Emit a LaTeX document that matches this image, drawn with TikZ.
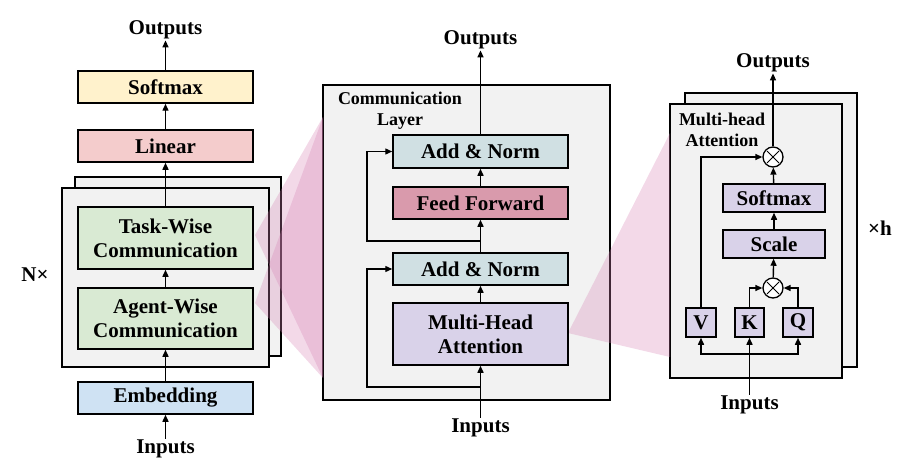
\documentclass[tikz,border=0pt]{standalone}
\usepackage{fontspec}
\setmainfont{Liberation Serif}
\usepackage{xcolor}
\usetikzlibrary{arrows.meta, backgrounds, positioning}

\definecolor{panelgray}{HTML}{F2F2F2}
\definecolor{softyellow}{HTML}{FFF2CC}
\definecolor{linearpink}{HTML}{F4CCCC}
\definecolor{commgreen}{HTML}{D9EAD3}
\definecolor{embedblue}{HTML}{CFE2F3}
\definecolor{normteal}{HTML}{D0E0E3}
\definecolor{ffrose}{HTML}{D99AAC}
\definecolor{attnpurple}{HTML}{D9D2E9}
\definecolor{fanpink}{RGB}{214,130,180}

\begin{document}
\begin{tikzpicture}[x=1pt, y=-1pt,
        block/.style={draw, line width=1.5pt, minimum width=175pt, minimum height=32pt, align=center, inner sep=0pt, font=\fontsize{21}{24}\selectfont\bfseries},
        panel/.style={draw, line width=1.5pt, fill=panelgray, inner sep=0pt},
        txt/.style={inner sep=1pt, font=\fontsize{21}{24}\selectfont\bfseries},
        lbl/.style={align=center, inner sep=0pt, font=\fontsize{18}{21}\selectfont\bfseries},
        arr/.style={-{Triangle[length=7pt,width=6pt]}, line width=1.4pt},
        fan/.style={fill=fanpink, fill opacity=0.3, draw=none},
        mult/.style={draw, circle, line width=1.3pt, minimum size=20pt, inner sep=0pt, fill=white,
            path picture={\draw[line width=0.8pt]
                ([shift={(-6pt,-6pt)}]path picture bounding box.center) -- ([shift={(6pt,6pt)}]path picture bounding box.center)
                ([shift={(-6pt,6pt)}]path picture bounding box.center) -- ([shift={(6pt,-6pt)}]path picture bounding box.center);}}]
        \useasboundingbox (0,0) rectangle (921,476);

        % Frames
        \node (stackback) [panel, minimum width=206pt, minimum height=179pt] at (178,266.5) {};
        \node (stack) [panel, minimum width=207pt, minimum height=179pt] at (165.5,277.5) {};
        \node (commlayer) [panel, minimum width=287pt, minimum height=315pt] at (466.5,242.5) {};
        \node (headback) [panel, minimum width=172pt, minimum height=274pt] at (771,230) {};
        \node (head) [panel, minimum width=172pt, minimum height=274pt] at (756,241) {};

        % Zoom fans
        \coordinate (fanA) at (255,235);
        \coordinate (fanB) at (255,303);
        \coordinate (fanTop) at (323,117);
        \coordinate (fanBot) at (323,378);
        \coordinate (fanC) at (568,333);
        \coordinate (fanTopR) at (670,133);
        \coordinate (fanBotR) at (670,357);
        \fill [fan] (fanA) -- (fanTop) -- (fanBot) -- cycle;
        \fill [fan] (fanB) -- (fanTop) -- (fanBot) -- cycle;
        \fill [fan] (fanC) -- (fanTopR) -- (fanBotR) -- cycle;

        % Left column
        \node (out1) [txt] at (165.5,30) {Outputs};
        \node (softmax) [block, fill=softyellow] at (165.5,87) {Softmax};
        \node (linear) [block, fill=linearpink] at (165.5,146) {Linear};
        \node (taskwise) [block, fill=commgreen, minimum height=62pt] at (165.5,238) {Task-Wise\\Communication};
        \node (agentwise) [block, fill=commgreen, minimum height=61pt] at (165.5,318.5) {Agent-Wise\\Communication};
        \node (embed) [block, fill=embedblue] at (165.5,398) {Embedding};
        \node (in1) [txt] at (165.5,449) {Inputs};
        \node (times) [txt] at (35,275) {N×};

        % Middle column
        \node (commlabel) [lbl] at (400,111) {Communication\\Layer};
        \node (out2) [txt] at (480.5,40) {Outputs};
        \node (norm2) [block, fill=normteal, minimum height=33pt] at (480.5,151.5) {Add \& Norm};
        \node (ffwd) [block, fill=ffrose] at (480.5,203) {Feed Forward};
        \node (norm1) [block, fill=normteal] at (480.5,269) {Add \& Norm};
        \node (mha) [block, fill=attnpurple, minimum height=62pt] at (480.5,334) {Multi-Head\\Attention};
        \node (in2) [txt] at (480.5,428) {Inputs};
        \coordinate (split1) at (480.5,387);
        \coordinate (split2) at (480.5,241);

        % Right column
        \node (headlabel) [lbl] at (722,130) {Multi-head\\Attention};
        \node (out3) [txt] at (773,63) {Outputs};
        \node (mul2) [mult] at (773,157) {};
        \node (softmax2) [block, fill=attnpurple, minimum width=102pt, minimum height=28pt] at (774,198) {Softmax};
        \node (scale) [block, fill=attnpurple, minimum width=102pt, minimum height=28pt] at (774,244) {Scale};
        \node (mul1) [mult] at (773,288) {};
        \node (vnode) [block, fill=attnpurple, minimum width=30pt, minimum height=29pt] at (701,322.5) {V};
        \node (knode) [block, fill=attnpurple, minimum width=29pt, minimum height=29pt] at (749.5,322.5) {K};
        \node (qnode) [block, fill=attnpurple, minimum width=30pt, minimum height=29pt] at (798,322.5) {Q};
        \node (in3) [txt] at (749.5,405) {Inputs};
        \node (heads) [txt] at (880,228) {×h};
        \coordinate (bus) at (749.5,354);

        % Lines
        \draw [arr] (in1) -- (embed);
        \draw [arr] (embed) -- (agentwise);
        \draw [arr] (agentwise) -- (taskwise);
        \draw [arr] (taskwise) -- (linear);
        \draw [arr] (linear) -- (softmax);
        \draw [arr] (softmax) -- (out1);

        \draw [arr] (in2) -- (mha);
        \draw [arr] (mha) -- (norm1);
        \draw [arr] (norm1) -- (ffwd);
        \draw [arr] (ffwd) -- (norm2);
        \draw [arr] (norm2) -- (out2);
        \draw [arr] (split1) -- ++(-113.5,0) |- (norm1.west);
        \draw [arr] (split2) -- ++(-113.5,0) |- (norm2.west);

        \draw [arr] (in3) -- (knode);
        \draw [arr] (bus) -| (vnode.south);
        \draw [arr] (bus) -| (qnode.south);
        \draw [arr] (knode.north) |- (mul1.west);
        \draw [arr] (qnode.north) |- (mul1.east);
        \draw [arr] (vnode.north) |- (mul2.west);
        \draw [arr] (mul1) -- (scale);
        \draw [arr] (scale) -- (softmax2);
        \draw [arr] (softmax2) -- (mul2);
        \draw [arr] (mul2) -- (out3);
    \end{tikzpicture}
\end{document}
